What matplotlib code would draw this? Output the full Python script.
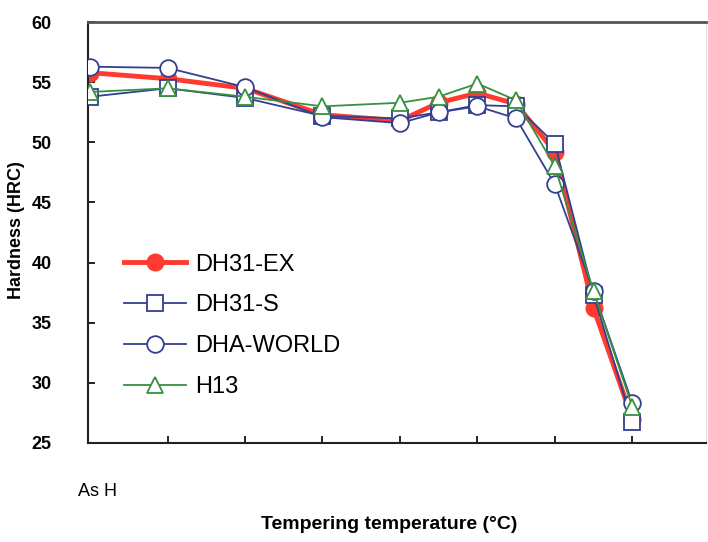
import matplotlib
matplotlib.use('Agg')
import matplotlib.pyplot as plt

# tempering steps, As H first (positions follow the chart's tick spacing)
steps = [0, 1, 2, 3, 4, 4.5, 5, 5.5, 6, 6.5, 7]

dh31_ex = [55.8, 55.3, 54.5, 52.3, 51.8, 53.3, 54.1, 53.2, 49.2, 36.2, 27.0]
dh31_s = [53.8, 54.5, 53.7, 52.2, 52.0, 52.5, 53.1, 53.0, 49.9, 37.3, 26.7]
dha_world = [56.3, 56.2, 54.6, 52.1, 51.6, 52.5, 53.0, 52.0, 46.5, 37.6, 28.3]
h13 = [54.2, 54.5, 53.8, 53.0, 53.3, 53.8, 54.9, 53.5, 48.0, 37.6, 28.0]

red = '#ff3a2e'
navy = '#343f8f'
green = '#36913f'

plt.rcParams['font.family'] = ['Liberation Sans Narrow', 'Liberation Sans', 'DejaVu Sans']

fig = plt.figure(figsize=(7.08, 5.42), dpi=100)
ax = fig.add_axes([0.124, 0.183, 0.873, 0.776])

ax.plot(steps, dh31_ex, color=red, lw=3.5, marker='o', ms=12,
        mfc=red, mec=red, label='DH31-EX', zorder=2)
ax.plot(steps, dh31_s, color=navy, lw=1.3, marker='s', ms=11,
        mfc='white', mec=navy, mew=1.3, label='DH31-S', zorder=3)
ax.plot(steps, dha_world, color=navy, lw=1.3, marker='o', ms=12,
        mfc='white', mec=navy, mew=1.3, label='DHA-WORLD', zorder=4)
ax.plot(steps, h13, color=green, lw=1.3, marker='^', ms=12,
        mfc='white', mec=green, mew=1.3, label='H13', zorder=5)

ax.set_xlim(-0.03, 7.95)
ax.set_ylim(25, 60)
ax.set_yticks(range(25, 61, 5))
ax.set_xticks([1, 2, 3, 4, 5, 6, 7])
ax.set_xticklabels([])
ax.tick_params(axis='both', direction='in', length=5, width=1.2)
ax.tick_params(axis='y', pad=26, labelsize=13)
for lab in ax.get_yticklabels():
    lab.set_fontweight('bold')

for s in ['left', 'bottom']:
    ax.spines[s].set_linewidth(1.5)
    ax.spines[s].set_color('#222222')
ax.spines['top'].set_linewidth(2)
ax.spines['top'].set_color('#555555')
ax.spines['right'].set_linewidth(0.8)
ax.spines['right'].set_color('#dddddd')

ax.text(0.015, -0.115, 'As H', transform=ax.transAxes, fontsize=13,
        ha='center', va='center')
fig.text(0.55, 0.033, 'Tempering temperature (°C)', fontsize=14,
         fontweight='bold', ha='center', va='center')
fig.text(0.024, 0.575, 'Hardness (HRC)', fontsize=13, fontweight='bold',
         rotation=90, ha='center', va='center')

ax.legend(loc='upper left', bbox_to_anchor=(0.04, 0.478), frameon=False,
          fontsize=17, handlelength=2.6, handletextpad=0.4,
          labelspacing=0.8, borderpad=0)

fig.savefig('out.png', dpi=100)
